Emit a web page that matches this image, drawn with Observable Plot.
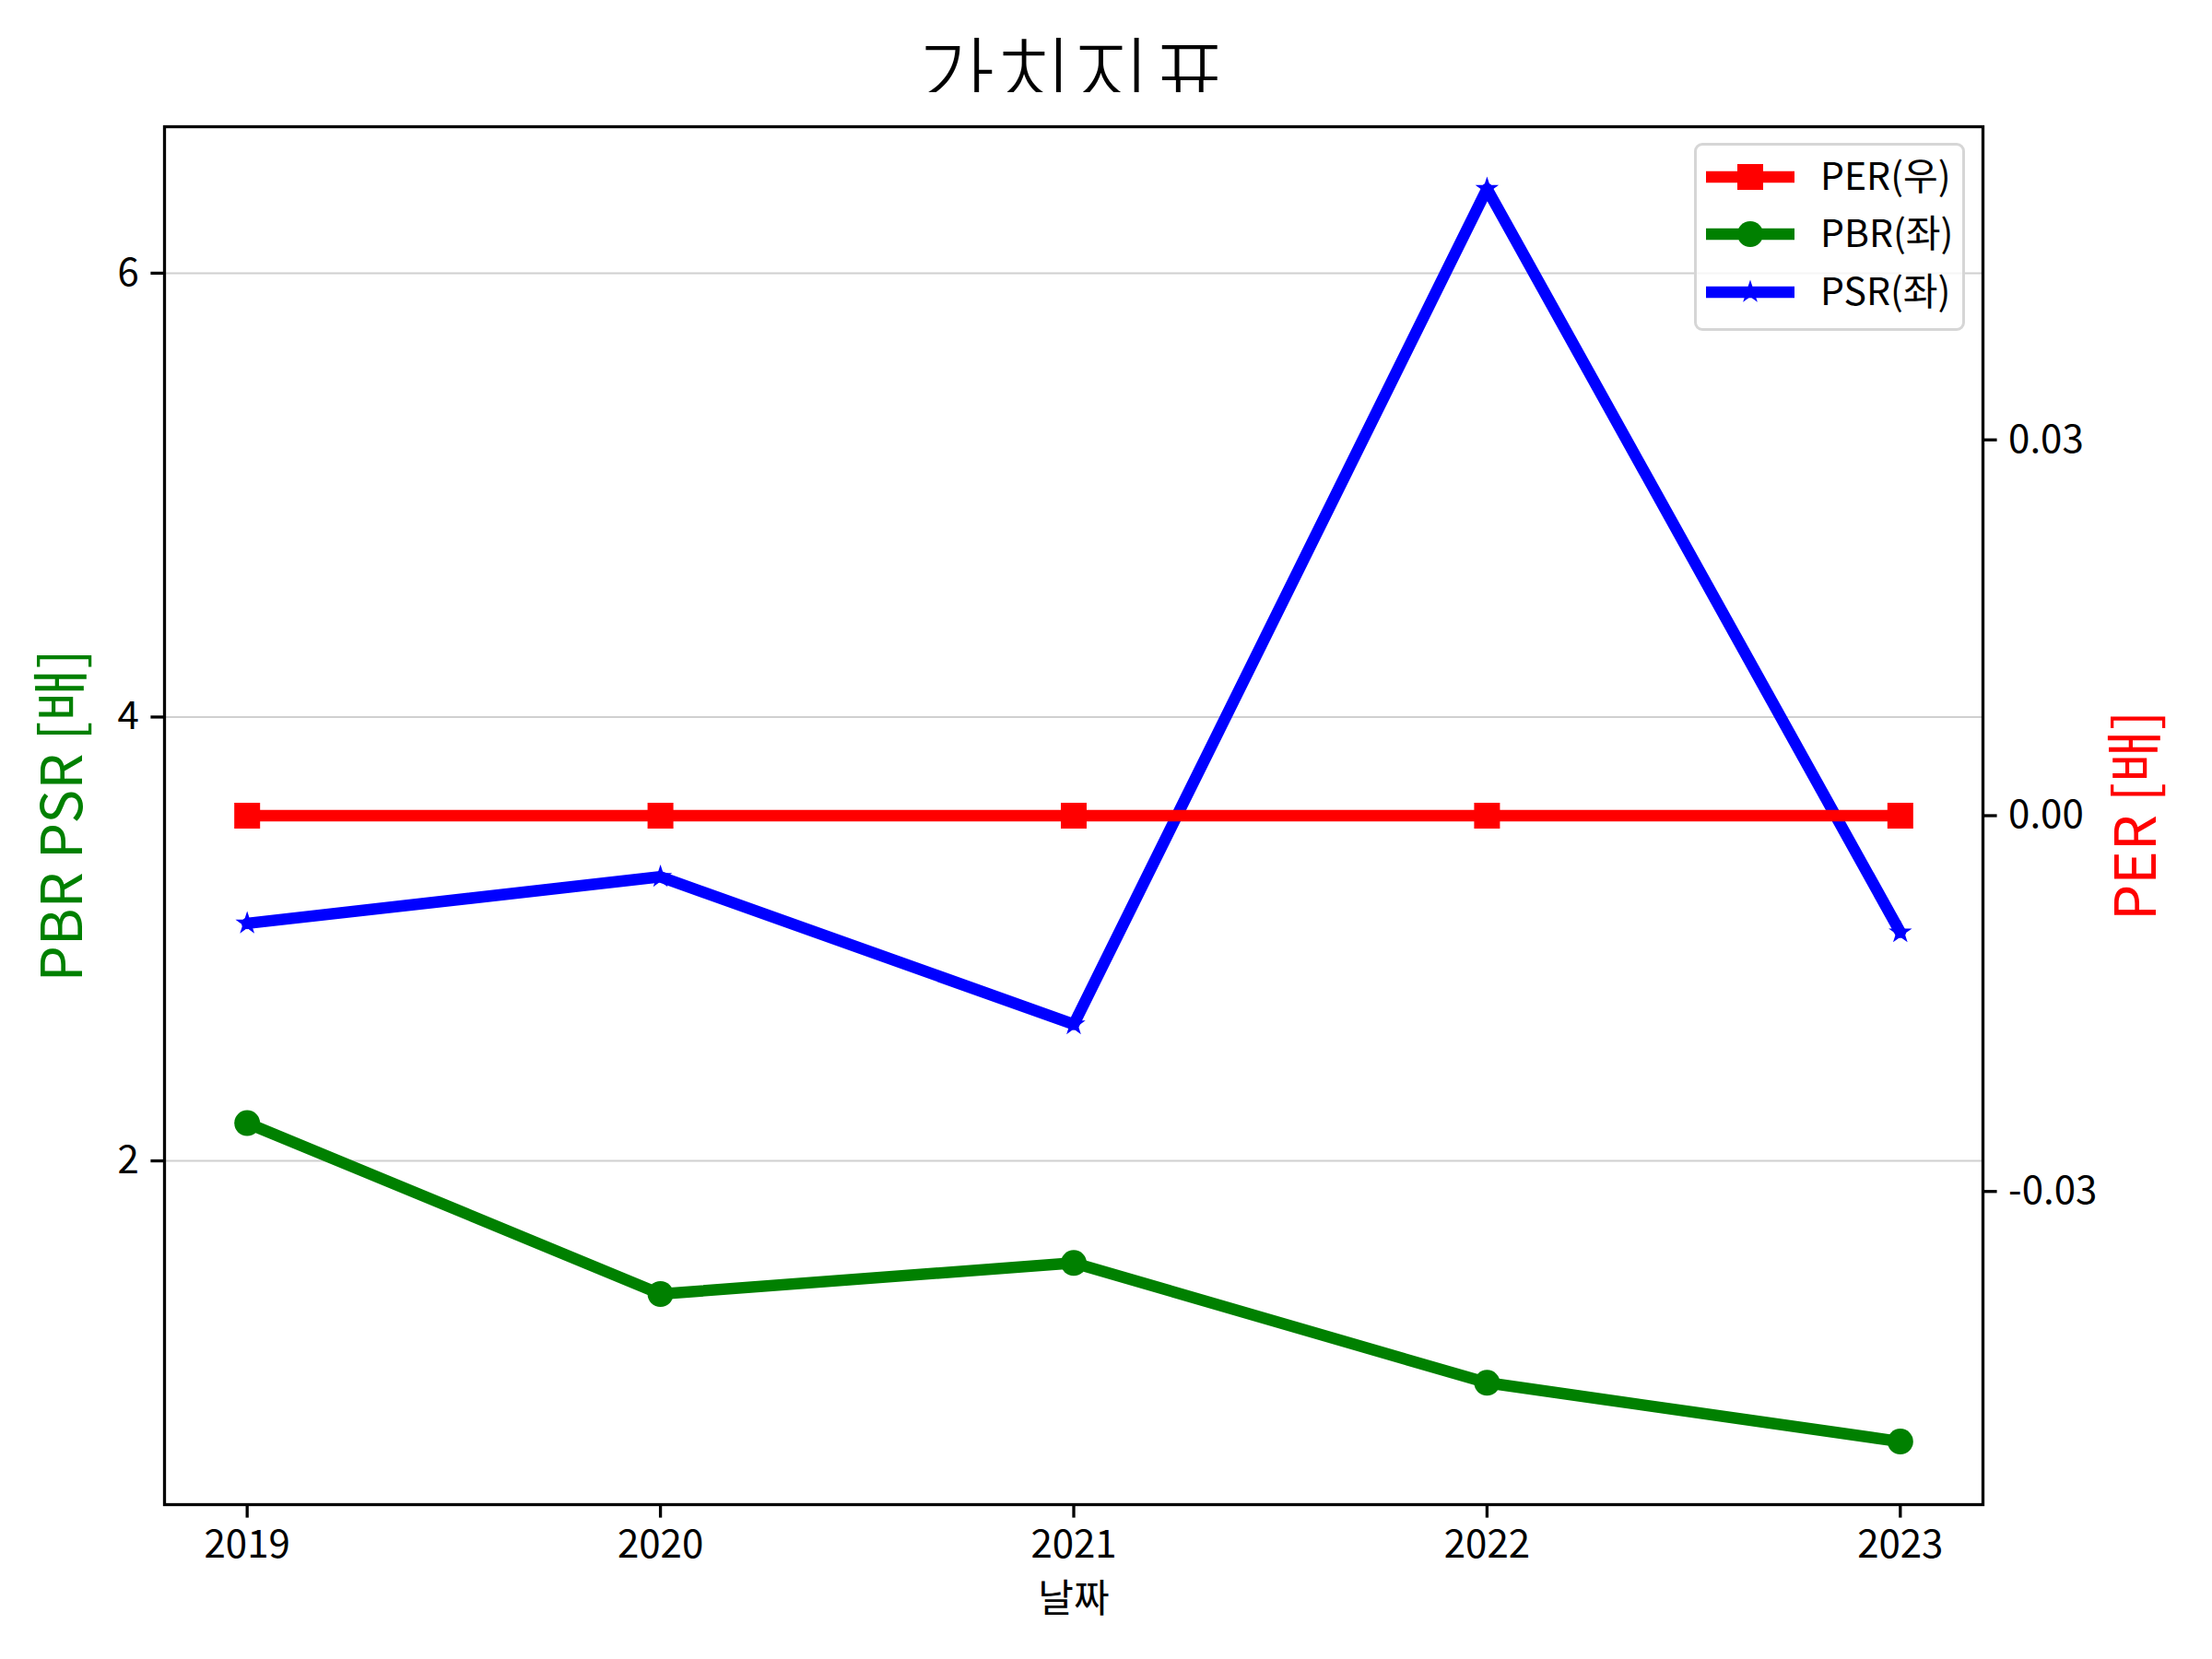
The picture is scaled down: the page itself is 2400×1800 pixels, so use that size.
<!DOCTYPE html>
<html>
<head>
<meta charset="utf-8">
<script src="https://cdn.jsdelivr.net/npm/d3@7"></script>
<script src="https://cdn.jsdelivr.net/npm/@observablehq/plot@0.6"></script>
<style>
  body { margin: 0; background: white; }
  #wrap { position: relative; width: 2400px; height: 1800px; background: white; font-family: "Noto Sans CJK KR", sans-serif; }
  #title { position: absolute; left: 1164px; top: 31px; transform: translateX(-50%); font-size: 92px; font-weight: 300; line-height: 1; white-space: nowrap; color: black; }
  #chart { position: absolute; left: 0; top: 100px; }
  #legend { position: absolute; left: 1838px; top: 155px; width: 288px; height: 198px; border: 3px solid #d6d6d6; border-radius: 9px; background: rgba(255,255,255,0.8); }
</style>
</head>
<body>
<div id="wrap">
  <div id="title">가치지표</div>
  <div id="chart"></div>
  <div id="legend"></div>
</div>
<script>
// ---- data ----
const years = [2019, 2020, 2021, 2022, 2023];
const pbr = [2.17, 1.40, 1.54, 1.00, 0.735];
const psr = [3.07, 3.28, 2.615, 6.38, 3.03];
const per = [0, 0, 0, 0, 0];
const leftTicks = [2, 4, 6];
const rightTicks = [-0.03, 0.00, 0.03];
const seriesNames = ["PER(우)", "PBR(좌)", "PSR(좌)"];
const seriesColors = ["red", "green", "blue"];
const seriesSymbols = ["square", "circle", "star"];
const xDomain = [2018.8, 2023.2];
const yDomain = [0.451, 6.66];
const perDomain = [-0.055, 0.055];

const rows = years.map((year, i) => ({year, PBR: pbr[i], PSR: psr[i], PER: per[i]}));

// map the right (PER) axis onto the left scale
const perToY = v => yDomain[0] + (v - perDomain[0]) / (perDomain[1] - perDomain[0]) * (yDomain[1] - yDomain[0]);
const yToPer = y => perDomain[0] + (y - yDomain[0]) / (yDomain[1] - yDomain[0]) * (perDomain[1] - perDomain[0]);
const fmtPer = v => { const r = Math.round(v * 100) / 100; return (Math.abs(r) < 1e-9 ? 0 : r).toFixed(2); };

const LW = 12.5;
const axisOpts = {tickSize: 14.6, tickPadding: 13, strokeWidth: 3.3, fontSize: 42, label: null};

const chart = Plot.plot({
  width: 2400,
  height: 1700,
  marginLeft: 178,
  marginRight: 249,
  marginTop: 37,
  marginBottom: 168,
  style: {fontFamily: "'Noto Sans CJK KR', sans-serif", fontSize: "42px", background: "white", color: "black", overflow: "visible"},
  x: {domain: xDomain},
  y: {domain: yDomain},
  marks: [
    Plot.ruleY(leftTicks, {stroke: "#d0d0d0", strokeWidth: 2}),
    Plot.axisX(years, {...axisOpts, tickFormat: d => String(d)}),
    Plot.axisY(leftTicks, {...axisOpts, anchor: "left", tickFormat: d => String(d)}),
    Plot.axisY(rightTicks.map(perToY), {...axisOpts, anchor: "right", tickFormat: d => fmtPer(yToPer(d))}),
    Plot.line(rows, {x: "year", y: "PBR", stroke: "green", strokeWidth: LW}),
    Plot.dot(rows, {x: "year", y: "PBR", fill: "green", stroke: null, r: 14, symbol: "circle"}),
    Plot.line(rows, {x: "year", y: "PSR", stroke: "blue", strokeWidth: LW}),
    Plot.dot(rows, {x: "year", y: "PSR", fill: "blue", stroke: null, r: 8, symbol: "star"}),
    Plot.line(rows, {x: "year", y: d => perToY(d.PER), stroke: "red", strokeWidth: LW}),
    Plot.dot(rows, {x: "year", y: d => perToY(d.PER), fill: "red", stroke: null, r: 15.8, symbol: "square"}),
    Plot.frame({stroke: "black", strokeWidth: 3.3}),
    Plot.text(["PBR PSR [배]"], {frameAnchor: "left", textAnchor: "middle", dx: -109, rotate: -90, fill: "green", fontSize: 62}),
    Plot.text(["PER [배]"], {frameAnchor: "right", textAnchor: "middle", dx: 168, rotate: -90, fill: "red", fontSize: 62}),
    Plot.text(["날짜"], {frameAnchor: "bottom", dy: 116, fontSize: 42})
  ]
});
document.getElementById("chart").appendChild(chart);

// ---- legend ----
const lg = d3.select("#legend").append("svg").attr("width", 288).attr("height", 198)
  .style("position", "absolute").style("left", "0").style("top", "0");
const rowY = [34, 96, 159];
seriesNames.forEach((name, i) => {
  const g = lg.append("g").attr("transform", `translate(0,${rowY[i]})`);
  g.append("line").attr("x1", 10).attr("x2", 106).attr("y1", 0).attr("y2", 0)
    .attr("stroke", seriesColors[i]).attr("stroke-width", LW);
  const symType = {square: d3.symbolSquare, circle: d3.symbolCircle, star: d3.symbolStar}[seriesSymbols[i]];
  const rr = {square: 15.8, circle: 14, star: 8}[seriesSymbols[i]];
  g.append("path").attr("transform", "translate(58,0)")
    .attr("d", d3.symbol(symType, Math.PI * rr * rr)()).attr("fill", seriesColors[i]);
  g.append("text").attr("x", 134).attr("y", 0).attr("dy", "0.35em")
    .attr("font-size", 41).attr("font-family", "'Noto Sans CJK KR', sans-serif").attr("fill", "black").text(name);
});
</script>
</body>
</html>
